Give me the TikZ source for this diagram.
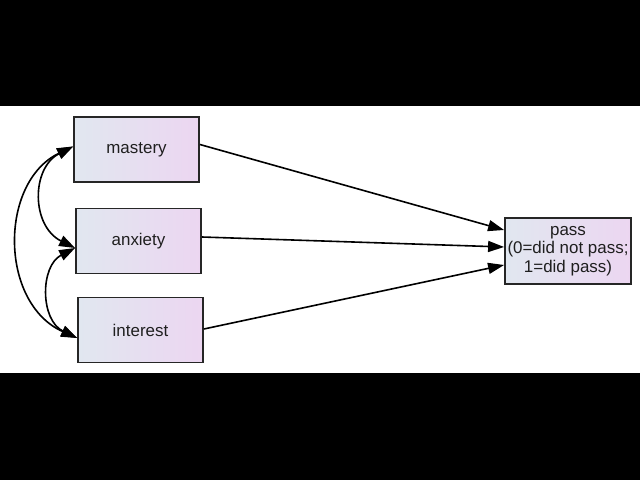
\documentclass[tikz,border=0pt]{standalone}
\usepackage{fontspec}
\setmainfont{Liberation Sans}
\usetikzlibrary{arrows.meta}
\begin{document}
\begin{tikzpicture}[x=1bp,y=-1bp,
  varbox/.style={draw=black!85,line width=1.8bp,left color=boxleft,right color=boxright,
    minimum width=125bp,minimum height=65bp,inner sep=0pt,text=black!88,
    font=\fontsize{17}{18.5}\selectfont,align=center},
  path/.style={line width=1.6bp,-{Triangle[length=16bp,width=11bp]}},
  cov/.style={line width=1.6bp,{Triangle[length=16bp,width=11bp]}-{Triangle[length=16bp,width=11bp]}}]
\definecolor{boxleft}{HTML}{E1E7F0}
\definecolor{boxright}{HTML}{ECD6F1}
\useasboundingbox (0,0) rectangle (640,480);
\fill[black] (0,0) rectangle (640,106);
\fill[black] (0,373) rectangle (640,480);
\node[varbox] (mastery) at (136.5,149.5) {mastery};
\node[varbox] (anxiety) at (138.5,241) {anxiety};
\node[varbox] (interest) at (140.5,330) {interest};
\node[varbox,minimum width=126bp,minimum height=66bp] (pass) at (568,251) {pass\\(0=did not pass;\\1=did pass)};
\draw[path] ([yshift=5bp]mastery.east) -- ([yshift=21bp]pass.west);
\draw[path] ([yshift=4bp]anxiety.east) -- ([yshift=4bp]pass.west);
\draw[path] ([yshift=1bp]interest.east) -- ([yshift=-14bp]pass.west);
\draw[cov] ([yshift=3bp]mastery.west) .. controls (31,168) and (31,226) .. ([yshift=-7bp]anxiety.west);
\draw[cov] ([yshift=3bp]mastery.west) .. controls (-1,182) and (-1,303) .. ([yshift=-8bp]interest.west);
\draw[cov] ([yshift=-7bp]anxiety.west) .. controls (40,266) and (40,320) .. ([yshift=-8bp]interest.west);
\end{tikzpicture}
\end{document}
